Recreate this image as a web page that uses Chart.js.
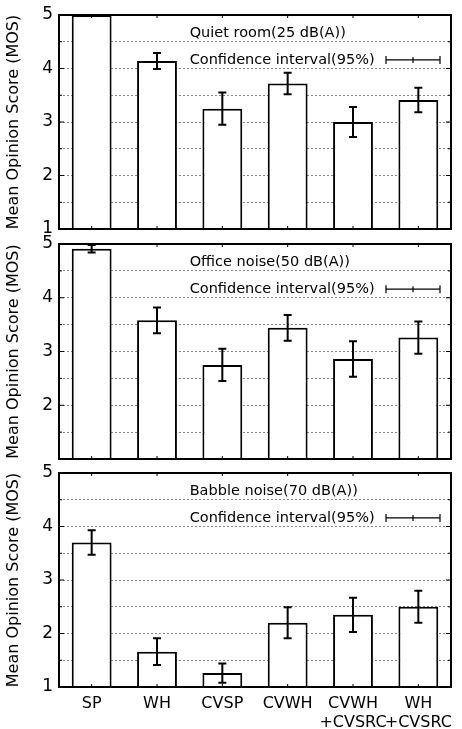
<!DOCTYPE html>
<html>
<head>
<meta charset="utf-8">
<script src="https://cdn.jsdelivr.net/npm/chart.js@4.4.1/dist/chart.umd.min.js"></script>
<style>
    html, body { margin: 0; padding: 0; background: #fff; }
    #wrap { position: relative; width: 462px; height: 729px; }
    canvas { position: absolute; left: 0; }
</style>
</head>
<body>
<div id="wrap">
    <canvas id="c-quiet" width="462" height="240" style="top:0px"></canvas>
    <canvas id="c-office" width="462" height="239" style="top:226px"></canvas>
    <canvas id="c-babble" width="462" height="273" style="top:456px"></canvas>
</div>
<script>
// Data
const categories = ['SP', 'WH', 'CVSP', 'CVWH', ['CVWH', '+CVSRC'], ['WH', '+CVSRC']];

const quietMos = [5.0, 4.14, 3.25, 3.72, 3.0, 3.41];
const quietCi = [0, 0.15, 0.3, 0.2, 0.28, 0.23];

const officeMos = [4.91, 3.58, 2.75, 3.44, 2.86, 3.26];
const officeCi = [0.07, 0.24, 0.3, 0.24, 0.33, 0.3];

const babbleMos = [3.70, 1.66, 1.26, 2.20, 2.35, 2.50];
const babbleCi = [0.23, 0.25, 0.18, 0.29, 0.32, 0.30];

const yMin = 1;
const yMax = 5;
const yStep = 0.5;

const legendText = 'Confidence interval(95%)';
const FONT = "'DejaVu Sans', sans-serif";

// frame, inward ticks, error bars and the in-plot labels
const gnuplotLook = {
    id: 'gnuplotLook',
    afterDatasetsDraw(chart, args, opts) {
        const ctx = chart.ctx;
        const a = chart.chartArea;
        const xs = chart.scales.x;
        const ys = chart.scales.y;
        const meta = chart.getDatasetMeta(0);

        // error bars (clipped to the plot)
        ctx.save();
        ctx.beginPath();
        ctx.rect(a.left, a.top, a.right - a.left, a.bottom - a.top);
        ctx.clip();
        ctx.strokeStyle = '#000';
        ctx.lineWidth = 2;
        meta.data.forEach((bar, i) => {
            const e = opts.ci[i];
            if (!e) return;
            const v = chart.data.datasets[0].data[i];
            const yHi = ys.getPixelForValue(v + e);
            const yLo = ys.getPixelForValue(v - e);
            ctx.beginPath();
            ctx.moveTo(bar.x, yHi);
            ctx.lineTo(bar.x, yLo);
            ctx.moveTo(bar.x - 4, yHi);
            ctx.lineTo(bar.x + 4, yHi);
            ctx.moveTo(bar.x - 4, yLo);
            ctx.lineTo(bar.x + 4, yLo);
            ctx.stroke();
        });
        ctx.restore();

        // tick marks
        ctx.save();
        ctx.strokeStyle = '#000';
        ctx.lineWidth = 1;
        ctx.beginPath();
        for (let v = yMin + yStep; v < yMax; v += yStep) {
            const y = ys.getPixelForValue(v);
            const len = Number.isInteger(v) ? 5 : 3;
            ctx.moveTo(a.left, y); ctx.lineTo(a.left + len, y);
            ctx.moveTo(a.right, y); ctx.lineTo(a.right - len, y);
        }
        categories.forEach((c, i) => {
            const x = xs.getPixelForValue(i);
            ctx.moveTo(x, a.top); ctx.lineTo(x, a.top + 3);
            ctx.moveTo(x, a.bottom); ctx.lineTo(x, a.bottom - 3);
        });
        ctx.stroke();

        // frame
        ctx.lineWidth = 2;
        ctx.strokeRect(a.left, a.top, a.right - a.left, a.bottom - a.top);

        // panel title and legend
        const textX = xs.getPixelForValue(1.5);
        ctx.fillStyle = '#000';
        ctx.font = '14.5px ' + FONT;
        ctx.textAlign = 'left';
        ctx.textBaseline = 'middle';
        ctx.fillText(opts.title, textX, ys.getPixelForValue(4.66));
        const legY = ys.getPixelForValue(4.16);
        ctx.fillText(legendText, textX, legY);

        const x0 = a.right - 65;
        const x1 = a.right - 11;
        const xm = (x0 + x1) / 2;
        ctx.lineWidth = 1.2;
        ctx.beginPath();
        ctx.moveTo(x0, legY); ctx.lineTo(x1, legY);
        ctx.moveTo(x0, legY - 4); ctx.lineTo(x0, legY + 4);
        ctx.moveTo(x1, legY - 4); ctx.lineTo(x1, legY + 4);
        ctx.moveTo(xm, legY - 3); ctx.lineTo(xm, legY + 3);
        ctx.stroke();
        ctx.restore();
    }
};

function makePanel(canvasId, mos, ci, title, cfg) {
    const ctx = document.getElementById(canvasId).getContext('2d');
    return new Chart(ctx, {
        type: 'bar',
        data: {
            labels: categories,
            datasets: [{
                data: mos,
                backgroundColor: '#fff',
                borderColor: '#000',
                borderWidth: 2,
                borderSkipped: 'start',
                barPercentage: 0.61,
                categoryPercentage: 1.0
            }]
        },
        options: {
            responsive: false,
            animation: false,
            layout: { padding: { top: cfg.padTop, bottom: cfg.padBottom, left: 0, right: 11 } },
            plugins: {
                legend: { display: false },
                tooltip: { enabled: false },
                gnuplotLook: { ci: ci, title: title }
            },
            scales: {
                x: {
                    display: cfg.showX,
                    offset: true,
                    grid: { display: false },
                    border: { display: false },
                    ticks: {
                        color: '#000',
                        padding: 0,
                        font: { family: FONT, size: 16, lineHeight: 1.15 },
                        maxRotation: 0,
                        autoSkip: false
                    },
                    afterFit: (s) => {
                        if (cfg.showX) s.height = 42;
                        s.paddingLeft = 0;
                        s.paddingRight = 0;
                    }
                },
                y: {
                    min: yMin,
                    max: yMax,
                    grid: { color: '#888', lineWidth: 1, drawTicks: false },
                    border: { display: false, dash: [2, 2] },
                    ticks: {
                        stepSize: yStep,
                        autoSkip: false,
                        color: '#000',
                        padding: 6,
                        font: { family: FONT, size: 17 },
                        callback: (v) => (Number.isInteger(v) && !(cfg.hideOne && v === 1)) ? v : ''
                    },
                    title: {
                        display: true,
                        text: 'Mean Opinion Score (MOS)',
                        color: '#000',
                        font: { family: FONT, size: 16 },
                        padding: { top: 4, bottom: 0 }
                    },
                    afterFit: (s) => {
                        s.width = 59;
                        s.paddingTop = 0;
                        s.paddingBottom = 0;
                    }
                }
            }
        },
        plugins: [gnuplotLook]
    });
}

makePanel('c-quiet', quietMos, quietCi, 'Quiet room(25 dB(A))',
    { padTop: 15, padBottom: 11, showX: false, hideOne: false });
makePanel('c-office', officeMos, officeCi, 'Office noise(50 dB(A))',
    { padTop: 18, padBottom: 6, showX: false, hideOne: true });
makePanel('c-babble', babbleMos, babbleCi, 'Babble noise(70 dB(A))',
    { padTop: 17, padBottom: 0, showX: true, hideOne: false });
</script>
</body>
</html>
